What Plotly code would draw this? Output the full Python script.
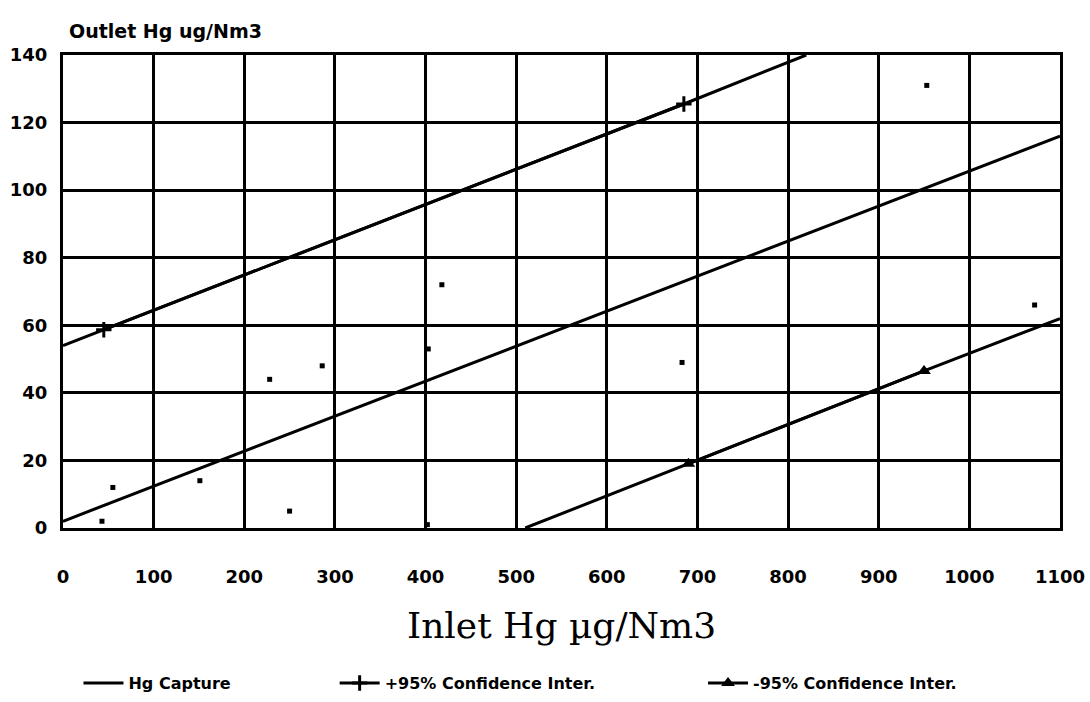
import plotly.graph_objects as go

# Regression fit and confidence limits (outlet vs inlet mercury)
capture_x = [0, 1100]
capture_y = [2, 116]

upper_x = [0, 45, 685, 820]
upper_y = [54, 58.7, 125.5, 140]

lower_x = [510, 690, 950, 1100]
lower_y = [0, 19, 46.5, 62]

# Individual measurements
obs_x = [43, 55, 151, 228, 250, 286, 403, 402, 418, 683, 953, 1072]
obs_y = [2, 12, 14, 44, 5, 48, 53, 1, 72, 49, 131, 66]

x_ticks = [0, 100, 200, 300, 400, 500, 600, 700, 800, 900, 1000, 1100]
y_ticks = [0, 20, 40, 60, 80, 100, 120, 140]

INK = "#000000"
BOLD = "DejaVu Sans"
LINE_W = 3

fig = go.Figure()

fig.add_trace(go.Scatter(
    x=obs_x, y=obs_y, mode="markers", showlegend=False,
    marker=dict(symbol="square", size=5, color=INK),
))

fig.add_trace(go.Scatter(
    x=capture_x, y=capture_y, mode="lines", name="Hg Capture",
    line=dict(color=INK, width=LINE_W), legend="legend",
))

# Upper limit: full line, then the marked points on top of it
fig.add_trace(go.Scatter(
    x=upper_x, y=upper_y, mode="lines", showlegend=False,
    line=dict(color=INK, width=LINE_W),
))
fig.add_trace(go.Scatter(
    x=upper_x[1:3], y=upper_y[1:3], mode="lines+markers",
    name="+95% Confidence Inter.", legend="legend2",
    line=dict(color=INK, width=LINE_W),
    marker=dict(symbol="cross-thin", size=11, color=INK,
                line=dict(color=INK, width=3)),
))

# Lower limit
fig.add_trace(go.Scatter(
    x=lower_x, y=lower_y, mode="lines", showlegend=False,
    line=dict(color=INK, width=LINE_W),
))
fig.add_trace(go.Scatter(
    x=lower_x[1:3], y=lower_y[1:3], mode="lines+markers",
    name="-95% Confidence Inter.", legend="legend3",
    line=dict(color=INK, width=LINE_W),
    marker=dict(symbol="triangle-up", size=12, color=INK),
))

axis_common = dict(
    showgrid=True, gridcolor=INK, gridwidth=2.5, automargin=False,
    zeroline=False, showline=True, linecolor=INK, linewidth=3, mirror=True,
    ticks="", tickfont=dict(family=BOLD, size=18, color=INK, weight="bold"),
)

fig.update_xaxes(
    range=[0, 1100], tickvals=x_ticks, ticktext=[str(v) for v in x_ticks],
    ticklabelstandoff=30, **axis_common,
    title=dict(text="Inlet Hg µg/Nm3", standoff=28,
               font=dict(family="DejaVu Serif", size=36, color=INK)),
)
fig.update_yaxes(
    range=[0, 140], tickvals=y_ticks, ticktext=[str(v) for v in y_ticks],
    ticklabelstandoff=9, **axis_common,
)

fig.add_annotation(
    text="Outlet Hg ug/Nm3", xref="paper", yref="paper",
    x=0.004, y=1.0, xanchor="left", yanchor="bottom", yshift=11, showarrow=False,
    font=dict(family=BOLD, size=19, color=INK, weight="bold"),
)

legend_font = dict(family=BOLD, size=16, color=INK, weight="bold")
legend_common = dict(
    orientation="h", yref="container", y=0.027, yanchor="middle",
    xref="container", xanchor="left",
    font=legend_font, bgcolor="rgba(0,0,0,0)", itemwidth=40,
)

fig.update_layout(
    width=1090, height=702,
    margin=dict(l=63, r=30, t=55, b=174),
    paper_bgcolor="white", plot_bgcolor="white",
    showlegend=True,
    legend=dict(x=0.072, **legend_common),
    legend2=dict(x=0.307, **legend_common),
    legend3=dict(x=0.645, **legend_common),
)

fig.write_html("out.html")
